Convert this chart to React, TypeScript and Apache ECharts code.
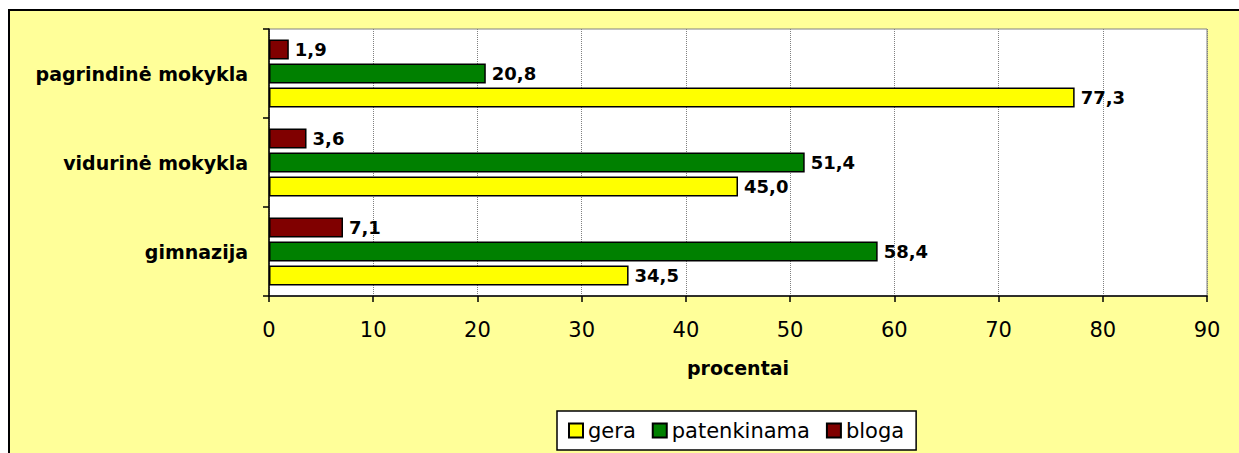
import React, { useEffect, useRef } from "react";
import * as echarts from "echarts";

const categories = ["gimnazija", "vidurinė mokykla", "pagrindinė mokykla"];
const legendOrder = ["gera", "patenkinama", "bloga"];
const gera = [34.5, 45.0, 77.3];
const patenkinama = [58.4, 51.4, 20.8];
const bloga = [7.1, 3.6, 1.9];
const colorGera = "#FFFF00";
const colorPatenkinama = "#008000";
const colorBloga = "#800000";
const xTicks = { min: 0, max: 90, interval: 10 };
const axisName = "procentai";

const FONT = "DejaVu Sans";

export default function App() {
  const ref = useRef<HTMLDivElement>(null);
  useEffect(() => {
    if (!ref.current) return;
    const chart = echarts.init(ref.current, undefined, { renderer: "svg" });
    // drawing order: first series is placed at the top of each category band
    const drawSeries = [
      { name: "bloga", data: bloga, color: colorBloga },
      { name: "patenkinama", data: patenkinama, color: colorPatenkinama },
      { name: "gera", data: gera, color: colorGera },
    ];
    chart.setOption({
      animation: false,
      backgroundColor: "transparent",
      grid: {
        left: 269,
        top: 29,
        right: 32,
        bottom: 157,
        show: true,
        backgroundColor: "#ffffff",
        borderColor: "#808080",
        borderWidth: 1,
      },
      legend: {
        data: legendOrder,
        left: 557,
        top: 411,
        orient: "horizontal",
        backgroundColor: "#ffffff",
        borderColor: "#000000",
        borderWidth: 1.5,
        borderRadius: 0,
        padding: [9, 12, 9, 11],
        itemWidth: 14,
        itemHeight: 14,
        itemGap: 16,
        icon: "rect",
        textStyle: { fontFamily: FONT, fontSize: 21, color: "#000" },
      },
      xAxis: {
        type: "value",
        min: xTicks.min,
        max: xTicks.max,
        interval: xTicks.interval,
        name: axisName,
        nameLocation: "middle",
        nameGap: 62,
        nameTextStyle: { fontFamily: FONT, fontSize: 19, fontWeight: "bold", color: "#000" },
        axisLine: { show: true, lineStyle: { color: "#000", width: 1.5 } },
        axisTick: { show: true, length: 6, lineStyle: { color: "#000", width: 1.5 } },
        axisLabel: { fontFamily: FONT, fontSize: 21, color: "#000", margin: 23 },
        splitLine: { show: true, lineStyle: { color: "#808080", width: 1, type: [1, 1] } },
      },
      yAxis: {
        type: "category",
        data: categories,
        axisLine: { show: true, lineStyle: { color: "#000", width: 1.5 } },
        axisTick: { show: true, length: 6, lineStyle: { color: "#000", width: 1.5 } },
        axisLabel: { fontFamily: FONT, fontSize: 19, fontWeight: "bold", color: "#000", margin: 21 },
        splitLine: { show: false },
      },
      series: drawSeries.map((s) => ({
        name: s.name,
        type: "bar",
        data: s.data,
        barWidth: 20,
        barGap: "20%",
        itemStyle: { color: s.color, borderColor: "#000", borderWidth: 1.5 },
        label: {
          show: true,
          position: "right",
          distance: 6,
          fontFamily: FONT,
          fontSize: 18,
          fontWeight: "bold",
          color: "#000",
          formatter: (p: any) => Number(p.value).toFixed(1).replace(".", ","),
        },
      })),
    });
    return () => chart.dispose();
  }, []);

  return (
    <div
      style={{
        position: "fixed",
        left: 0,
        top: 0,
        width: 1239,
        height: 453,
        overflow: "hidden",
        background: "#ffffff",
      }}
    >
      <div
        style={{
          position: "absolute",
          left: 8,
          top: 9,
          width: 1300,
          height: 500,
          boxSizing: "border-box",
          borderTop: "2px solid #000",
          borderLeft: "2px solid #000",
          background: "#FFFF99",
        }}
      />
      <div ref={ref} style={{ position: "absolute", left: 0, top: 0, width: 1239, height: 453 }} />
    </div>
  );
}
